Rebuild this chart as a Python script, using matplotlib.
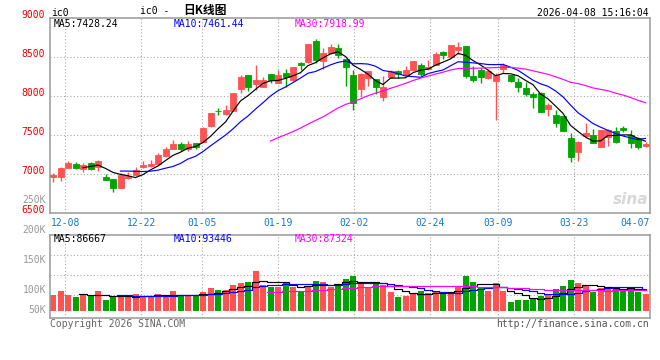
import numpy as np
import matplotlib
matplotlib.use('Agg')
import matplotlib.pyplot as plt
from matplotlib.transforms import blended_transform_factory

# daily candles, 12-04 .. 04-08
opens = [6965, 6969, 7085, 7132, 7068, 7145, 7098, 6965, 6940, 6828,
         6948, 6995, 7098, 7106, 7132, 7234, 7328, 7388, 7324, 7397,
         7418, 7615, 7816, 7777, 7816, 8098, 8273, 8162, 8123, 8286,
         8175, 8299, 8209, 8423, 8435, 8709, 8457, 8551, 8619, 8478,
         8273, 8094, 8239, 8217, 7995, 8252, 8325, 8277, 8337, 8401,
         8350, 8405, 8568, 8500, 8598, 8645, 8260, 8337, 8234, 8200,
         8350, 8273, 8179, 8102, 8029, 8046, 7841, 7760, 7747, 7469,
         7290, 7491, 7500, 7354, 7474, 7559, 7593, 7500, 7465, 7367]
highs = [7021, 7098, 7170, 7157, 7145, 7157, 7183, 7004, 6940, 7021,
         7034, 7093, 7170, 7183, 7269, 7354, 7440, 7414, 7427, 7405,
         7602, 7790, 7850, 7884, 8042, 8273, 8273, 8401, 8243, 8286,
         8337, 8346, 8376, 8444, 8666, 8739, 8623, 8670, 8670, 8478,
         8337, 8303, 8320, 8217, 8260, 8337, 8337, 8388, 8452, 8423,
         8465, 8564, 8585, 8658, 8692, 8645, 8388, 8367, 8346, 8294,
         8423, 8273, 8230, 8188, 8059, 8059, 7910, 7824, 7747, 7525,
         7427, 7658, 7576, 7572, 7576, 7611, 7619, 7568, 7482, 7418]
lows = [6905, 6918, 7080, 7068, 7034, 7059, 7046, 6931, 6777, 6828,
        6940, 6982, 7085, 7098, 7119, 7217, 7320, 7303, 7303, 7328,
        7410, 7606, 7764, 7764, 7807, 8046, 8072, 8081, 8115, 8166,
        8166, 8115, 8200, 8337, 8423, 8423, 8346, 8538, 8487, 8136,
        7824, 7995, 8132, 8025, 7940, 8230, 8239, 8264, 8324, 8264,
        8337, 8397, 8482, 8487, 8538, 8239, 8188, 8175, 8217, 7696,
        8294, 8183, 8059, 8008, 7854, 7803, 7752, 7611, 7555, 7162,
        7175, 7470, 7405, 7345, 7367, 7405, 7546, 7333, 7324, 7354]
closes = [6987, 7085, 7145, 7085, 7119, 7072, 7170, 6931, 6828, 6995,
          6982, 7055, 7119, 7132, 7247, 7328, 7388, 7324, 7388, 7346,
          7593, 7782, 7807, 7824, 8042, 8247, 8123, 8209, 8205, 8209,
          8273, 8252, 8376, 8401, 8666, 8465, 8555, 8632, 8529, 8371,
          7910, 8286, 8320, 8123, 8115, 8320, 8290, 8337, 8452, 8282,
          8380, 8542, 8534, 8658, 8632, 8260, 8209, 8252, 8324, 8273,
          8401, 8196, 8123, 8029, 7995, 7803, 7888, 7662, 7559, 7226,
          7414, 7525, 7405, 7572, 7568, 7418, 7564, 7405, 7346, 7388]
volumes = [66000, 84400, 66000, 57800, 70500, 63300, 84400, 45200, 56100, 64600,
           62000, 70500, 62000, 56100, 70500, 66300, 84400, 60300, 60300, 60300,
           80200, 95800, 87400, 87400, 108500, 115200, 122400, 168800, 108500, 101300,
           101300, 122400, 101300, 83100, 105500, 125300, 122400, 101300, 112700, 133800,
           146400, 121100, 98300, 112700, 106800, 78900, 57800, 62000, 70500, 83100,
           73000, 80200, 70500, 80200, 104200, 147700, 121100, 101300, 84400, 118200,
           84400, 38000, 45200, 45200, 54900, 62000, 64600, 91600, 104200, 129600,
           118200, 104200, 80200, 97100, 97100, 98300, 91600, 94100, 80200, 70500]

tick_idx = [2, 12, 20, 30, 40, 50, 59, 69]
tick_labels = ['12-08', '12-22', '01-05', '01-19', '02-02', '02-24', '03-09', '03-23']
last_label = '04-07'
price_ticks = [6500, 7000, 7500, 8000, 8500, 9000]
price_grid = [7000, 7500, 8000, 8500]
vol_labels = ['250K', '200K', '150K', '100K', '50K']

RED = '#ff5252'
GREEN = '#00a400'
GRID = '#aaaaaa'
BORDER = '#999999'
MONO = 'DejaVu Sans Mono'
LW = 0.85

W, H = 660, 360
fig = plt.figure(figsize=(6.6, 3.6), dpi=100)


def px_axes(l, t, r, b):
    return fig.add_axes([l / W, 1 - b / H, (r - l) / W, (b - t) / H])


def ftext(xp, yp, s, **kw):
    kw.setdefault('family', MONO)
    kw.setdefault('fontsize', 7)
    fig.text(xp / W, 1 - yp / H, s, **kw)


def ma(a, n):
    a = np.asarray(a, dtype=float)
    out = np.full(len(a), np.nan)
    out[n - 1:] = np.convolve(a, np.ones(n) / n, mode='valid')
    return out


ax = px_axes(50, 18.3, 650, 213.3)
axv = px_axes(50, 234.7, 650, 318.3)

x = np.arange(len(closes))
o, hi, lo, c = (np.array(v, dtype=float) for v in (opens, highs, lows, closes))
colors = np.where(c >= o, RED, GREEN)

# date grid drifts slightly against candle slots in the original
grid_x = [(7.6 * i - 3) / 7.5 for i in tick_idx]

for a in (ax, axv):
    a.set_xlim(-0.4, 79.6)
    for s in a.spines.values():
        s.set_color(BORDER)
        s.set_linewidth(1.1)
    a.set_xticks([])
    for gx in grid_x:
        a.axvline(gx, color=GRID, lw=0.8, ls=(0, (1, 2)), zorder=0)

# price panel
ax.set_ylim(6500, 9000)
ax.set_yticks(price_ticks)
ax.set_yticklabels([str(p) for p in price_ticks], family=MONO, fontsize=7,
                   color='#ee0000', va='baseline')
ax.tick_params(axis='y', length=0, pad=4)
for p in price_grid:
    ax.axhline(p, color=GRID, lw=0.8, ls=(0, (1, 2)), zorder=0)

ax.vlines(x, lo, hi, colors=colors, lw=1, zorder=2)
ax.bar(x, np.abs(c - o), bottom=np.minimum(o, c), width=0.8,
       color=colors, edgecolor=colors, lw=0.6, zorder=2)
ax.plot(x, ma(closes, 5), color='black', lw=LW, zorder=3)
ax.plot(x, ma(closes, 10), color='#0000ff', lw=LW, zorder=3)
ax.plot(x, ma(closes, 30), color='#ff00ff', lw=LW, zorder=3)

# volume panel
axv.set_ylim(-32000, 320700)
axv.set_yticks([])
for f in (0.757, 0.518, 0.279):
    axv.plot([0, 1], [f, f], transform=axv.transAxes, color=GRID, lw=0.8,
             ls=(0, (1, 2)), zorder=0)
axv.bar(x, volumes, width=0.8, color=colors, zorder=2)
axv.plot(x, ma(volumes, 5), color='black', lw=LW, drawstyle='steps-mid', zorder=3)
axv.plot(x, ma(volumes, 10), color='#0000ff', lw=LW, drawstyle='steps-mid', zorder=3)
axv.plot(x, ma(volumes, 30), color='#ff00ff', lw=LW, drawstyle='steps-mid', zorder=3)

# date labels under the price panel
tr = blended_transform_factory(ax.transData, fig.transFigure)
for gx, lab in zip(grid_x, tick_labels):
    ax.text(gx, 1 - 218 / H, lab, transform=tr, ha='center', va='top',
            family=MONO, fontsize=7, color='#1777cc')
ax.text(1.0, 1 - 218 / H, last_label,
        transform=blended_transform_factory(ax.transAxes, fig.transFigure),
        ha='right', va='top', family=MONO, fontsize=7, color='#1777cc')

# header
ftext(51, 16, 'ic0', va='baseline')
ftext(140, 13.5, 'ic0 -', va='baseline')
ftext(183, 14, '日K线图', va='baseline', family=['Noto Sans CJK SC', 'DejaVu Sans'],
      fontsize=8.5, fontweight='bold')
ftext(649, 16, '2026-04-08 15:16:04', ha='right', va='baseline')

ftext(54, 27.3, 'MA5:7428.24', va='baseline', color='black')
ftext(174, 27.3, 'MA10:7461.44', va='baseline', color='#0000ff')
ftext(295, 27.3, 'MA30:7918.99', va='baseline', color='#ff00ff')

ftext(54, 242, 'MA5:86667', va='baseline', color='black')
ftext(174, 242, 'MA10:93446', va='baseline', color='#0000ff')
ftext(295, 242, 'MA30:87324', va='baseline', color='#ff00ff')

for yp, lab in zip([203.3, 233.3, 263.3, 293.3, 313], vol_labels):
    ftext(46, yp, lab, ha='right', va='baseline', color='#999999')

ftext(50, 319, 'Copyright 2026 SINA.COM', va='top', color='#666666')
ftext(649, 319, 'http://finance.sina.com.cn', ha='right', va='top', color='#555555')

# watermark
ftext(648, 204, 'sina', ha='right', va='baseline', family='DejaVu Sans',
      fontsize=11, fontstyle='italic', fontweight='bold', color='#d8d8d8')

fig.savefig('out.png', dpi=100)
